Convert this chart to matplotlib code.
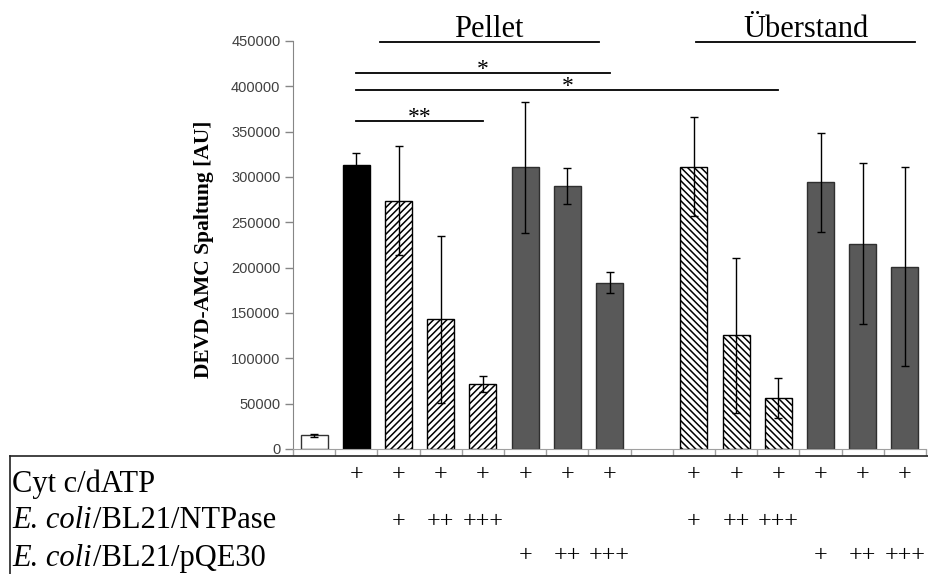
import matplotlib
matplotlib.use('Agg')
import matplotlib.pyplot as plt
import numpy as np
from matplotlib.lines import Line2D

plt.rcParams['hatch.linewidth'] = 1.1

# slot 8 is the empty gap between Pellet and Überstand
means = [15000, 313000, 274000, 143000, 71500, 310500, 290000, 183500, None,
         311500, 125500, 56000, 294000, 226500, 201000]
errs = [1500, 14000, 60000, 92000, 8500, 72500, 19700, 11500, None,
        55000, 85500, 22000, 55000, 89000, 110000]
kinds = ['white', 'black', 'ntp', 'ntp', 'ntp', 'pqe', 'pqe', 'pqe', None,
         'ntp2', 'ntp2', 'ntp2', 'pqe', 'pqe', 'pqe']

# row labels: (italic part, plain part)
row_labels = [('', 'Cyt c/dATP'), ('E. coli', '/BL21/NTPase'), ('E. coli', '/BL21/pQE30')]
row_cyt = ['', '+', '+', '+', '+', '+', '+', '+', '', '+', '+', '+', '+', '+', '+']
row_ntp = ['', '', '+', '++', '+++', '', '', '', '', '+', '++', '+++', '', '', '']
row_pqe = ['', '', '', '', '', '+', '++', '+++', '', '', '', '', '+', '++', '+++']

# significance brackets: (from slot, to slot, height, label)
sig = [(1, 7, 414500, '*'), (1, 11, 396300, '*'), (1, 4, 362000, '**')]
groups = [(1.55, 6.75, 'Pellet'), (9.05, 14.25, 'Überstand')]
group_y = 448600

styles = {
    'white': dict(color='white', edgecolor='#333333', hatch=None),
    'black': dict(color='black', edgecolor='black', hatch=None),
    'ntp': dict(color='white', edgecolor='black', hatch='/////'),
    'ntp2': dict(color='white', edgecolor='black', hatch='\\\\\\\\\\'),
    'pqe': dict(color='#595959', edgecolor='#2f2f2f', hatch=None),
}

fig = plt.figure(figsize=(9.29, 5.74), dpi=100)
ax = fig.add_axes([293 / 929, 1 - 449 / 574, 633 / 929, 408 / 574])

for i, (m, e, k) in enumerate(zip(means, errs, kinds)):
    if m is None:
        continue
    st = styles[k]
    ax.bar(i, m, width=0.64, color=st['color'], edgecolor=st['edgecolor'],
           hatch=st['hatch'], linewidth=1, zorder=2)
    ax.errorbar(i, m, yerr=e, fmt='none', ecolor='black', elinewidth=1,
                capsize=3, capthick=1, zorder=3)

ax.set_xlim(-0.5, len(means) - 0.5)
ax.set_ylim(0, 450000)
ax.set_yticks(np.arange(0, 450001, 50000))
ax.set_yticklabels([str(v) for v in range(0, 450001, 50000)],
                   fontfamily='Liberation Sans', fontsize=10.5, color='#404040')
ax.set_xticks(np.arange(-0.5, len(means), 1))
ax.set_xticklabels([])
ax.tick_params(axis='y', direction='out', length=6, width=1, color='#868686', pad=3)
ax.tick_params(axis='x', direction='out', length=4, width=1, color='#a0a0a0')
for s in ['top', 'right']:
    ax.spines[s].set_visible(False)
ax.spines['left'].set_color('#868686')
ax.spines['bottom'].set_color('#a0a0a0')

# significance lines
for a, b, y, lab in sig:
    ax.plot([a, b], [y, y], color='black', lw=1.3, clip_on=False, zorder=4)
    ax.annotate(lab, xy=((a + b) / 2, y), xytext=(0, -1.5), textcoords='offset points',
                ha='center', va='baseline', fontfamily='Liberation Serif', fontsize=17,
                annotation_clip=False)

for a, b, lab in groups:
    ax.plot([a, b], [group_y, group_y], color='black', lw=1.3, clip_on=False, zorder=4)
    ax.annotate(lab, xy=((a + b) / 2, group_y), xytext=(0, 4), textcoords='offset points',
                ha='center', va='baseline', fontfamily='Liberation Serif', fontsize=22,
                annotation_clip=False)

fig.text(204 / 929, 1 - 249 / 574, 'DEVD-AMC Spaltung [AU]', rotation=90,
         ha='center', va='center', fontfamily='Liberation Serif', fontweight='bold',
         fontsize=15.5)

# table below the chart
fig.add_artist(Line2D([10 / 929, 1], [1 - 456 / 574] * 2, transform=fig.transFigure,
                      color='#222222', lw=1.2))
fig.add_artist(Line2D([10 / 929, 10 / 929], [1 - 456 / 574, 0], transform=fig.transFigure,
                      color='#222222', lw=1.2))

renderer = fig.canvas.get_renderer()
label_y = [1 - 492 / 574, 1 - 528 / 574, 1 - 566 / 574]
plus_y = [1 - 475 / 574, 1 - 522 / 574, 1 - 556 / 574]
for (it, plain), ly in zip(row_labels, label_y):
    x0 = 12 / 929
    if it:
        t = fig.text(x0, ly, it, ha='left', va='baseline', fontfamily='Liberation Serif',
                     style='italic', fontsize=22)
        x0 = t.get_window_extent(renderer).x1 / fig.bbox.width + 1 / 929
    fig.text(x0, ly, plain, ha='left', va='baseline', fontfamily='Liberation Serif',
             fontsize=22)

trans = ax.get_xaxis_transform() + fig.transFigure.inverted()
for row, py in zip([row_cyt, row_ntp, row_pqe], plus_y):
    for i, s in enumerate(row):
        if not s:
            continue
        xf = trans.transform((i, 0))[0]
        fig.text(xf, py, s, ha='center', va='center', fontfamily='Liberation Serif',
                 fontsize=17.5)

fig.savefig('out.png', dpi=100)
